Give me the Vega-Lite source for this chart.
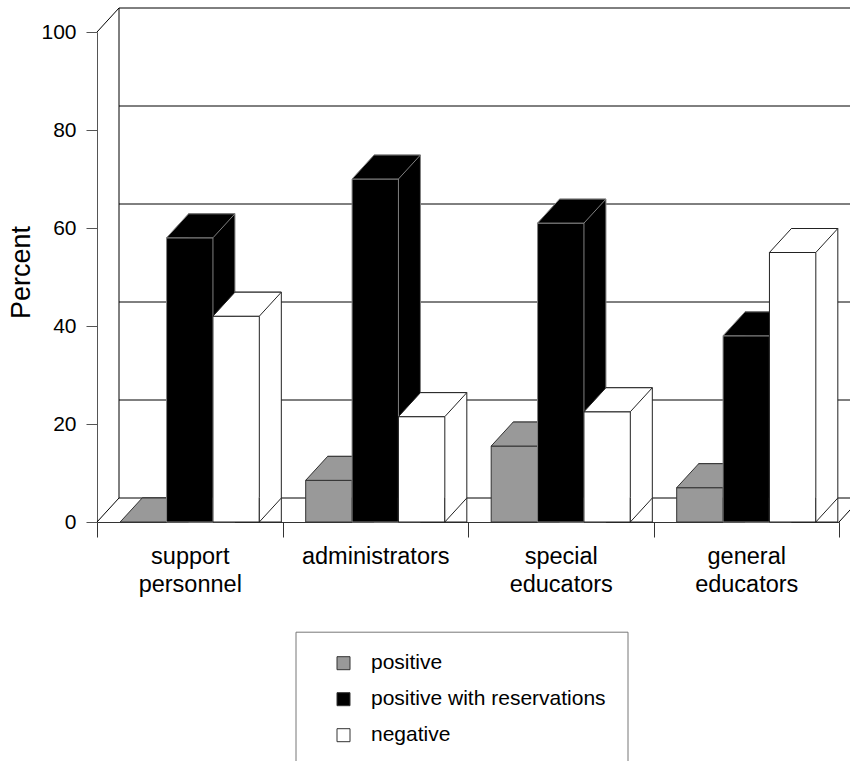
{
  "$schema": "https://vega.github.io/schema/vega-lite/v6.json",
  "width": 742,
  "height": 490,
  "autosize": {"type": "none"},
  "padding": {"left": 97, "top": 32, "right": 11, "bottom": 239},
  "background": "#ffffff",
  "config": {
    "font": "Liberation Sans",
    "view": {"stroke": null},
    "axis": {"grid": false, "labelColor": "#000000", "titleColor": "#000000", "labelFont": "Liberation Sans", "titleFont": "Liberation Sans", "titleFontWeight": "normal"}
  },
  "datasets": {
    "bars": [
      {"cat": "support personnel", "series": "positive", "value": 0},
      {"cat": "support personnel", "series": "positive with reservations", "value": 58},
      {"cat": "support personnel", "series": "negative", "value": 42},
      {"cat": "administrators", "series": "positive", "value": 8.5},
      {"cat": "administrators", "series": "positive with reservations", "value": 70},
      {"cat": "administrators", "series": "negative", "value": 21.5},
      {"cat": "special educators", "series": "positive", "value": 15.5},
      {"cat": "special educators", "series": "positive with reservations", "value": 61},
      {"cat": "special educators", "series": "negative", "value": 22.5},
      {"cat": "general educators", "series": "positive", "value": 7},
      {"cat": "general educators", "series": "positive with reservations", "value": 38},
      {"cat": "general educators", "series": "negative", "value": 55}
    ],
    "wall": [
      {"value": 0, "a": "support personnel", "b": "general educators"},
      {"value": 20, "a": "support personnel", "b": "general educators"},
      {"value": 40, "a": "support personnel", "b": "general educators"},
      {"value": 60, "a": "support personnel", "b": "general educators"},
      {"value": 80, "a": "support personnel", "b": "general educators"},
      {"value": 100, "a": "support personnel", "b": "general educators"}
    ],
    "edge": [{"cat": "support personnel", "value": 0, "top": 100}],
    "leftCorners": [{"cat": "support personnel", "value": 0}, {"cat": "support personnel", "value": 100}],
    "rightCorner": [{"cat": "general educators", "value": 0}]
  },
  "resolve": {"scale": {"xOffset": "independent"}},
  "layer": [
    {
      "data": {"name": "wall"},
      "mark": {"type": "rule", "xOffset": 22, "x2Offset": 22, "yOffset": -24, "stroke": "#000000", "strokeWidth": 1},
      "encoding": {
        "x": {"field": "a", "type": "nominal", "title": null, "bandPosition": 0, "scale": {"domain": ["support personnel", "administrators", "special educators", "general educators"], "paddingInner": 0, "paddingOuter": 0}},
        "x2": {"field": "b", "bandPosition": 1},
        "y": {"field": "value", "type": "quantitative", "title": "Percent", "scale": {"domain": [0, 100], "nice": false},
          "axis": {"values": [0, 20, 40, 60, 80, 100], "tickSize": 11, "labelPadding": 10, "labelFontSize": 21, "domainColor": "#555555", "tickColor": "#555555", "titleFontSize": 27, "titlePadding": 5, "titleY": 240}}
      }
    },
    {
      "data": {"name": "edge"},
      "mark": {"type": "rule", "xOffset": 22, "yOffset": -24, "y2Offset": -24, "stroke": "#000000", "strokeWidth": 1},
      "encoding": {
        "x": {"field": "cat", "type": "nominal", "title": null, "bandPosition": 0},
        "y": {"field": "value", "type": "quantitative", "title": "Percent"},
        "y2": {"field": "top"}
      }
    },
    {
      "data": {"name": "leftCorners"},
      "mark": {"type": "point", "shape": "M0,0L22,-24", "size": 4, "filled": false, "stroke": "#000000", "strokeWidth": 1, "opacity": 1},
      "encoding": {
        "x": {"field": "cat", "type": "nominal", "title": null, "bandPosition": 0},
        "y": {"field": "value", "type": "quantitative", "title": "Percent"}
      }
    },
    {
      "data": {"name": "rightCorner"},
      "mark": {"type": "point", "shape": "M0,0L22,-24", "size": 4, "filled": false, "stroke": "#000000", "strokeWidth": 1, "opacity": 1},
      "encoding": {
        "x": {"field": "cat", "type": "nominal", "title": null, "bandPosition": 1},
        "y": {"field": "value", "type": "quantitative", "title": "Percent"}
      }
    },
    {
      "data": {"name": "bars"},
      "transform": [{"filter": "datum.series === 'positive'"}],
      "mark": {"type": "bar", "yOffset": -24, "y2Offset": -24, "stroke": "#333333", "strokeWidth": 1},
      "encoding": {
        "x": {"field": "cat", "type": "nominal", "title": null,
          "axis": {"labelExpr": "split(datum.label, ' ')", "tickBand": "extent", "tickSize": 15, "tickColor": "#333333", "domainColor": "#333333", "labelFontSize": 23.5, "labelPadding": 19, "labelLineHeight": 28, "labelAngle": 0, "labelAlign": "center", "labelLimit": 300}},
        "xOffset": {"field": "series", "type": "nominal", "scale": {"type": "band", "domain": ["positive", "positive with reservations", "negative"], "paddingInner": 0, "paddingOuter": 0.5, "range": [22, 207.5]}},
        "y": {"field": "value", "type": "quantitative", "title": "Percent", "stack": null},
        "fill": {"field": "series", "type": "nominal", "scale": {"domain": ["positive", "positive with reservations", "negative"], "range": ["#999999", "#000000", "#ffffff"]},
          "legend": {"title": null, "orient": "none", "legendX": 198.5, "legendY": 599.7, "padding": 21, "strokeColor": "#777777", "symbolType": "square", "symbolSize": 169, "symbolStrokeColor": "#333333", "symbolStrokeWidth": 1, "symbolOffset": 16.5, "labelOffset": 17, "labelFontSize": 21, "labelLimit": 400, "rowPadding": 14, "labelFont": "Liberation Sans", "labelColor": "#000000"}}
      }
    },
    {
      "data": {"name": "bars"},
      "transform": [{"filter": "datum.series === 'positive'"}],
      "mark": {"type": "bar", "stroke": "#333333", "strokeWidth": 1},
      "encoding": {
        "x": {"field": "cat", "type": "nominal", "title": null},
        "xOffset": {"field": "series", "type": "nominal", "scale": {"type": "band", "domain": ["positive", "positive with reservations", "negative"], "paddingInner": 0, "paddingOuter": 0.5}},
        "y": {"field": "value", "type": "quantitative", "title": "Percent", "stack": null},
        "fill": {"field": "series", "type": "nominal", "scale": {"domain": ["positive", "positive with reservations", "negative"], "range": ["#999999", "#000000", "#ffffff"]}}
      }
    },
    {
      "data": {"name": "bars"},
      "transform": [{"filter": "datum.series === 'positive'"}],
      "mark": {"type": "point", "shape": "M-23.19,0L23.19,0L45.19,-24L-1.19,-24Z", "size": 4, "filled": true, "fill": "#999999", "stroke": "#333333", "strokeWidth": 1, "opacity": 1},
      "encoding": {
        "x": {"field": "cat", "type": "nominal", "title": null},
        "xOffset": {"field": "series", "type": "nominal", "scale": {"type": "band", "domain": ["positive", "positive with reservations", "negative"], "paddingInner": 0, "paddingOuter": 0.5}},
        "y": {"field": "value", "type": "quantitative", "title": "Percent"}
      }
    },
    {
      "data": {"name": "bars"},
      "transform": [{"filter": "datum.series === 'positive' && datum.value >= 5"}],
      "mark": {"type": "point", "shape": "M23.19,-24.4L23.19,0L45.19,-24", "size": 4, "filled": true, "fill": "#999999", "stroke": "#333333", "strokeWidth": 1, "opacity": 1},
      "encoding": {
        "x": {"field": "cat", "type": "nominal", "title": null},
        "xOffset": {"field": "series", "type": "nominal", "scale": {"type": "band", "domain": ["positive", "positive with reservations", "negative"], "paddingInner": 0, "paddingOuter": 0.5}},
        "y": {"datum": 0, "type": "quantitative", "title": "Percent"}
      }
    },
    {
      "data": {"name": "bars"},
      "transform": [{"filter": "datum.series === 'positive with reservations'"}],
      "mark": {"type": "bar", "yOffset": -24, "y2Offset": -24, "stroke": "#808080", "strokeWidth": 1},
      "encoding": {
        "x": {"field": "cat", "type": "nominal", "title": null},
        "xOffset": {"field": "series", "type": "nominal", "scale": {"type": "band", "domain": ["positive", "positive with reservations", "negative"], "paddingInner": 0, "paddingOuter": 0.5, "range": [22, 207.5]}},
        "y": {"field": "value", "type": "quantitative", "title": "Percent", "stack": null},
        "fill": {"field": "series", "type": "nominal", "scale": {"domain": ["positive", "positive with reservations", "negative"], "range": ["#999999", "#000000", "#ffffff"]}}
      }
    },
    {
      "data": {"name": "bars"},
      "transform": [{"filter": "datum.series === 'positive with reservations'"}],
      "mark": {"type": "bar", "stroke": "#808080", "strokeWidth": 1},
      "encoding": {
        "x": {"field": "cat", "type": "nominal", "title": null},
        "xOffset": {"field": "series", "type": "nominal", "scale": {"type": "band", "domain": ["positive", "positive with reservations", "negative"], "paddingInner": 0, "paddingOuter": 0.5}},
        "y": {"field": "value", "type": "quantitative", "title": "Percent", "stack": null},
        "fill": {"field": "series", "type": "nominal", "scale": {"domain": ["positive", "positive with reservations", "negative"], "range": ["#999999", "#000000", "#ffffff"]}}
      }
    },
    {
      "data": {"name": "bars"},
      "transform": [{"filter": "datum.series === 'positive with reservations'"}],
      "mark": {"type": "point", "shape": "M-23.19,0L23.19,0L45.19,-24L-1.19,-24Z", "size": 4, "filled": true, "fill": "#000000", "stroke": "#808080", "strokeWidth": 1, "opacity": 1},
      "encoding": {
        "x": {"field": "cat", "type": "nominal", "title": null},
        "xOffset": {"field": "series", "type": "nominal", "scale": {"type": "band", "domain": ["positive", "positive with reservations", "negative"], "paddingInner": 0, "paddingOuter": 0.5}},
        "y": {"field": "value", "type": "quantitative", "title": "Percent"}
      }
    },
    {
      "data": {"name": "bars"},
      "transform": [{"filter": "datum.series === 'positive with reservations' && datum.value >= 5"}],
      "mark": {"type": "point", "shape": "M23.19,-24.4L23.19,0L45.19,-24", "size": 4, "filled": true, "fill": "#000000", "stroke": "#808080", "strokeWidth": 1, "opacity": 1},
      "encoding": {
        "x": {"field": "cat", "type": "nominal", "title": null},
        "xOffset": {"field": "series", "type": "nominal", "scale": {"type": "band", "domain": ["positive", "positive with reservations", "negative"], "paddingInner": 0, "paddingOuter": 0.5}},
        "y": {"datum": 0, "type": "quantitative", "title": "Percent"}
      }
    },
    {
      "data": {"name": "bars"},
      "transform": [{"filter": "datum.series === 'negative'"}],
      "mark": {"type": "bar", "yOffset": -24, "y2Offset": -24, "stroke": "#222222", "strokeWidth": 1},
      "encoding": {
        "x": {"field": "cat", "type": "nominal", "title": null},
        "xOffset": {"field": "series", "type": "nominal", "scale": {"type": "band", "domain": ["positive", "positive with reservations", "negative"], "paddingInner": 0, "paddingOuter": 0.5, "range": [22, 207.5]}},
        "y": {"field": "value", "type": "quantitative", "title": "Percent", "stack": null},
        "fill": {"field": "series", "type": "nominal", "scale": {"domain": ["positive", "positive with reservations", "negative"], "range": ["#999999", "#000000", "#ffffff"]}}
      }
    },
    {
      "data": {"name": "bars"},
      "transform": [{"filter": "datum.series === 'negative'"}],
      "mark": {"type": "bar", "stroke": "#222222", "strokeWidth": 1},
      "encoding": {
        "x": {"field": "cat", "type": "nominal", "title": null},
        "xOffset": {"field": "series", "type": "nominal", "scale": {"type": "band", "domain": ["positive", "positive with reservations", "negative"], "paddingInner": 0, "paddingOuter": 0.5}},
        "y": {"field": "value", "type": "quantitative", "title": "Percent", "stack": null},
        "fill": {"field": "series", "type": "nominal", "scale": {"domain": ["positive", "positive with reservations", "negative"], "range": ["#999999", "#000000", "#ffffff"]}}
      }
    },
    {
      "data": {"name": "bars"},
      "transform": [{"filter": "datum.series === 'negative'"}],
      "mark": {"type": "point", "shape": "M-23.19,0L23.19,0L45.19,-24L-1.19,-24Z", "size": 4, "filled": true, "fill": "#ffffff", "stroke": "#222222", "strokeWidth": 1, "opacity": 1},
      "encoding": {
        "x": {"field": "cat", "type": "nominal", "title": null},
        "xOffset": {"field": "series", "type": "nominal", "scale": {"type": "band", "domain": ["positive", "positive with reservations", "negative"], "paddingInner": 0, "paddingOuter": 0.5}},
        "y": {"field": "value", "type": "quantitative", "title": "Percent"}
      }
    },
    {
      "data": {"name": "bars"},
      "transform": [{"filter": "datum.series === 'negative' && datum.value >= 5"}],
      "mark": {"type": "point", "shape": "M23.19,-24.4L23.19,0L45.19,-24", "size": 4, "filled": true, "fill": "#ffffff", "stroke": "#222222", "strokeWidth": 1, "opacity": 1},
      "encoding": {
        "x": {"field": "cat", "type": "nominal", "title": null},
        "xOffset": {"field": "series", "type": "nominal", "scale": {"type": "band", "domain": ["positive", "positive with reservations", "negative"], "paddingInner": 0, "paddingOuter": 0.5}},
        "y": {"datum": 0, "type": "quantitative", "title": "Percent"}
      }
    }
  ]
}
